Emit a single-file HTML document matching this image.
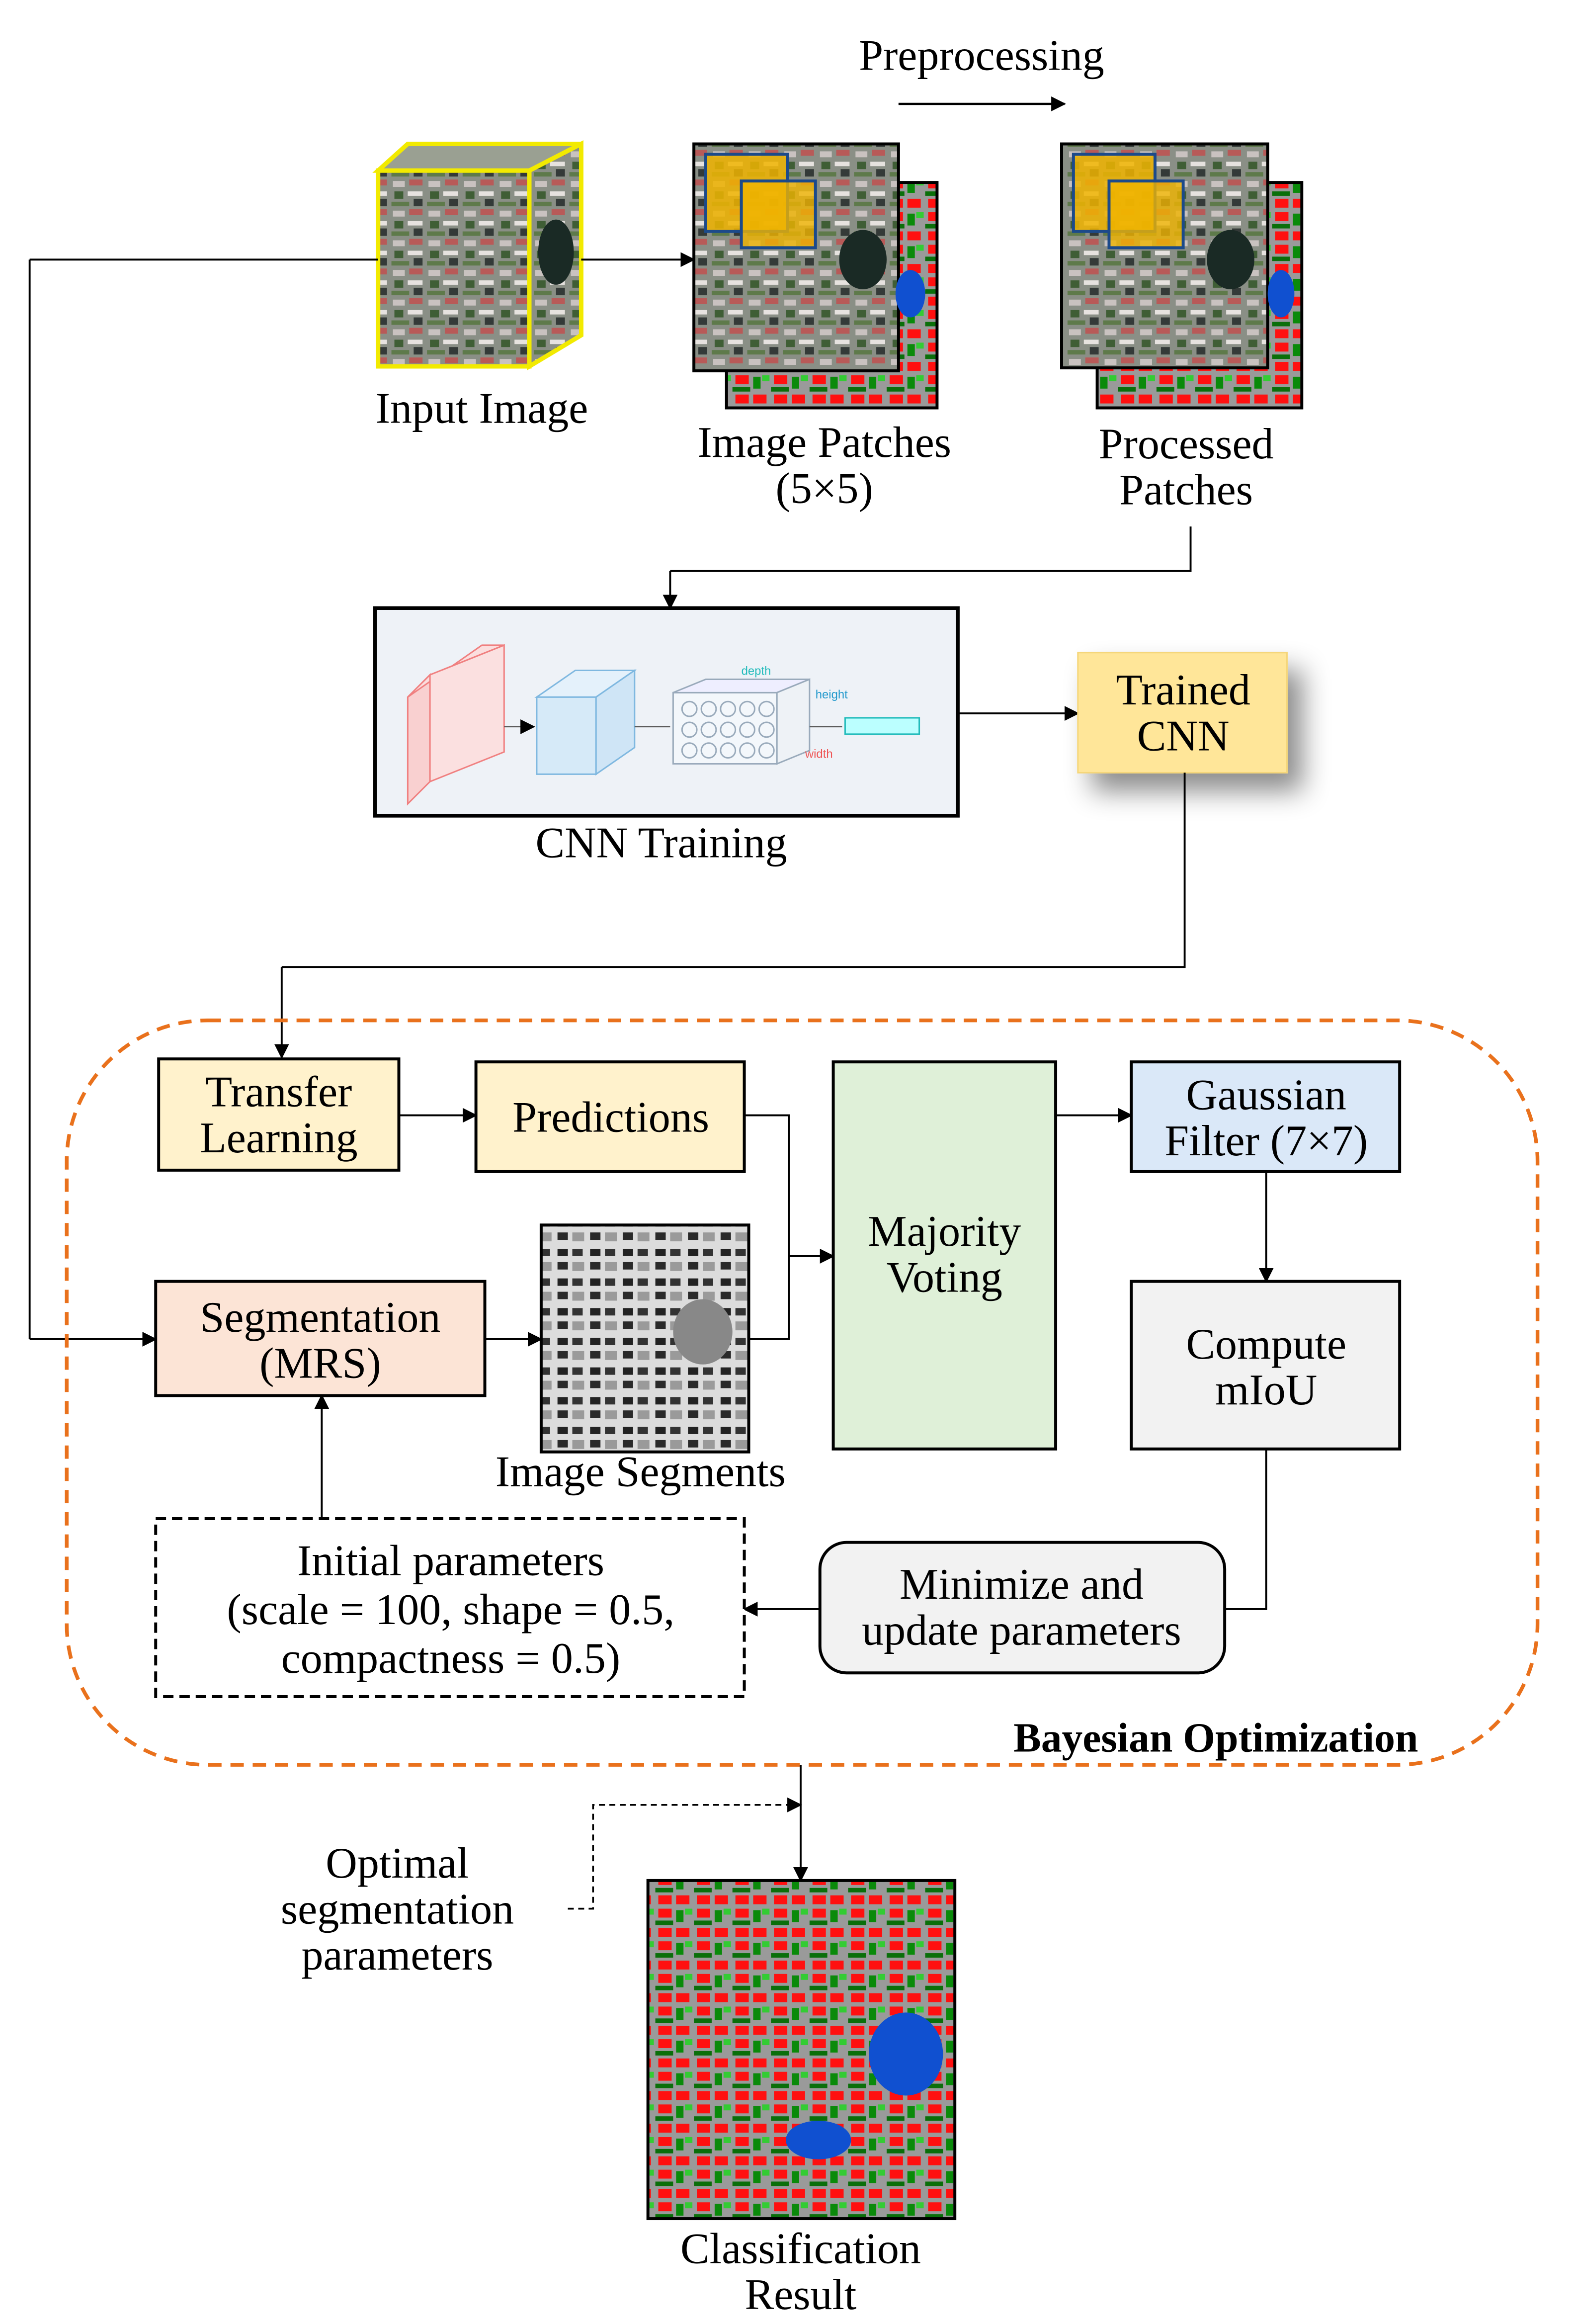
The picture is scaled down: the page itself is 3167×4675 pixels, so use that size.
<!DOCTYPE html>
<html><head><meta charset="utf-8"><style>html,body{margin:0;padding:0;background:#fff}svg{display:block}</style></head>
<body>
<svg width="3167" height="4675" viewBox="0 0 1061.6 1567" xmlns="http://www.w3.org/2000/svg" font-family="Liberation Serif, serif" font-size="29.5" fill="#000">
<defs>
<marker id="ar" markerWidth="10" markerHeight="10" refX="9" refY="5" orient="auto" markerUnits="userSpaceOnUse"><path d="M0,0 L10,5 L0,10 z" fill="#000"/></marker>
<pattern id="sat" width="24" height="20" patternUnits="userSpaceOnUse">
<rect width="24" height="20" fill="#8a8f86"/>
<rect x="1" y="2" width="8" height="4" fill="#c9c2c0"/><rect x="12" y="1" width="9" height="4" fill="#b85a58"/>
<rect x="2" y="9" width="6" height="5" fill="#3f5e35"/><rect x="11" y="9" width="10" height="3" fill="#e6e2df"/>
<rect x="0" y="16" width="12" height="3" fill="#5e7a4a"/><rect x="15" y="14" width="6" height="5" fill="#343a38"/>
</pattern>
<pattern id="map" width="26" height="22" patternUnits="userSpaceOnUse">
<rect width="26" height="22" fill="#9a9a9a"/>
<rect x="2" y="2" width="9" height="6" fill="#ff1010"/><rect x="14" y="2" width="9" height="6" fill="#ff1010"/>
<rect x="2" y="11" width="9" height="6" fill="#ff1010"/><rect x="14" y="12" width="5" height="8" fill="#0a8a0a"/>
<rect x="20" y="11" width="5" height="4" fill="#33cc33"/><rect x="0" y="19" width="12" height="3" fill="#0a6f0a"/>
</pattern>
<pattern id="seg" width="22" height="20" patternUnits="userSpaceOnUse">
<rect width="22" height="20" fill="#dcdcdc"/>
<rect x="2" y="2" width="7" height="5" fill="#222"/><rect x="12" y="2" width="7" height="5" fill="#333"/>
<rect x="2" y="11" width="7" height="5" fill="#2a2a2a"/><rect x="12" y="11" width="8" height="6" fill="#9a9a9a"/>
</pattern>
<filter id="sh" x="-40%" y="-40%" width="200%" height="200%"><feDropShadow dx="10" dy="12" stdDeviation="9" flood-color="#000" flood-opacity="0.45"/></filter>
</defs>

<text x="662" y="47" text-anchor="middle">Preprocessing</text>
<line x1="606" y1="70" x2="718" y2="70" stroke="#000" stroke-width="1.5" marker-end="url(#ar)"/>

<polygon points="255,115 275,97 392,97 357,115" fill="#9aa092" stroke="#f2ea00" stroke-width="3"/>
<polygon points="357,115 392,97 392,226 357,247" fill="url(#sat)" stroke="#f2ea00" stroke-width="3"/>
<rect x="255" y="115" width="102" height="132" fill="url(#sat)" stroke="#f2ea00" stroke-width="3"/>
<ellipse cx="375" cy="170" rx="12" ry="22" fill="#1a2a25"/>
<text x="325" y="285" text-anchor="middle">Input Image</text>

<line x1="255" y1="175" x2="20" y2="175" stroke="#000" stroke-width="1.3"/>
<line x1="20" y1="175" x2="20" y2="903" stroke="#000" stroke-width="1.3"/>
<line x1="20" y1="903" x2="105" y2="903" stroke="#000" stroke-width="1.3" marker-end="url(#ar)"/>
<line x1="392" y1="175" x2="468" y2="175" stroke="#000" stroke-width="1.3" marker-end="url(#ar)"/>

<rect x="490" y="123" width="142" height="152" fill="url(#map)" stroke="#000" stroke-width="2"/>
<rect x="468" y="97" width="138" height="153" fill="url(#sat)" stroke="#000" stroke-width="2"/>
<rect x="476" y="104" width="55" height="52" fill="#f0b400" fill-opacity="0.85" stroke="#1c4a8a" stroke-width="2"/>
<rect x="500" y="122" width="50" height="45" fill="#f0b400" fill-opacity="0.8" stroke="#1c4a8a" stroke-width="2"/>
<ellipse cx="582" cy="175" rx="16" ry="20" fill="#1a2a25"/>
<ellipse cx="614" cy="198" rx="10" ry="16" fill="#1050d0"/>
<text x="556" y="308" text-anchor="middle">Image  Patches</text>
<text x="556" y="339" text-anchor="middle">(5×5)</text>

<rect x="740" y="123" width="138" height="152" fill="url(#map)" stroke="#000" stroke-width="2"/>
<rect x="716" y="97" width="139" height="151" fill="url(#sat)" stroke="#000" stroke-width="2"/>
<rect x="724" y="104" width="55" height="52" fill="#f0b400" fill-opacity="0.85" stroke="#1c4a8a" stroke-width="2"/>
<rect x="748" y="122" width="50" height="45" fill="#f0b400" fill-opacity="0.8" stroke="#1c4a8a" stroke-width="2"/>
<ellipse cx="830" cy="175" rx="16" ry="20" fill="#1a2a25"/>
<ellipse cx="864" cy="198" rx="9" ry="16" fill="#1050d0"/>
<text x="800" y="309" text-anchor="middle">Processed</text>
<text x="800" y="340" text-anchor="middle">Patches</text>

<polyline points="803,355 803,385 452,385" fill="none" stroke="#000" stroke-width="1.3"/>
<line x1="452" y1="385" x2="452" y2="410" stroke="#000" stroke-width="1.3" marker-end="url(#ar)"/>

<rect x="253" y="410" width="393" height="140" fill="#eef2f7" stroke="#000" stroke-width="2.5"/>
<polygon points="275,470 290,455 290,527 275,542" fill="#f9d0d0" stroke="#f08080"/>
<polygon points="275,470 325,435 340,435 290,455" fill="#fbdede" stroke="#f08080"/>
<polygon points="290,455 340,435 340,507 290,527" fill="#fbe0e0" stroke="#f08080"/>
<rect x="362" y="470" width="40" height="52" fill="#d6eaf8" stroke="#7fb8e0"/>
<polygon points="362,470 388,452 428,452 402,470" fill="#e4f1fb" stroke="#7fb8e0"/>
<polygon points="402,470 428,452 428,504 402,522" fill="#cfe5f6" stroke="#7fb8e0"/>
<rect x="454" y="467" width="70" height="48" fill="#f3f7fb" stroke="#9ab"/>
<polygon points="454,467 476,458 546,458 524,467" fill="#eef" stroke="#9ab"/>
<polygon points="524,467 546,458 546,506 524,515" fill="#eef2f6" stroke="#9ab"/>
<g fill="none" stroke="#9ab"><circle cx="465" cy="478" r="5"/><circle cx="478" cy="478" r="5"/><circle cx="491" cy="478" r="5"/><circle cx="504" cy="478" r="5"/><circle cx="517" cy="478" r="5"/><circle cx="465" cy="492" r="5"/><circle cx="478" cy="492" r="5"/><circle cx="491" cy="492" r="5"/><circle cx="504" cy="492" r="5"/><circle cx="517" cy="492" r="5"/><circle cx="465" cy="506" r="5"/><circle cx="478" cy="506" r="5"/><circle cx="491" cy="506" r="5"/><circle cx="504" cy="506" r="5"/><circle cx="517" cy="506" r="5"/></g>
<text x="500" y="455" font-family="Liberation Sans, sans-serif" font-size="8" fill="#2bb">depth</text>
<text x="550" y="471" font-family="Liberation Sans, sans-serif" font-size="8" fill="#29c">height</text>
<text x="543" y="511" font-family="Liberation Sans, sans-serif" font-size="8" fill="#e55">width</text>
<rect x="570" y="484" width="50" height="11" fill="#bff" stroke="#2bb"/>
<line x1="340" y1="490" x2="360" y2="490" stroke="#555" marker-end="url(#ar)" stroke-width="0.8"/>
<line x1="428" y1="490" x2="452" y2="490" stroke="#555" stroke-width="0.8"/>
<line x1="546" y1="490" x2="568" y2="490" stroke="#555" stroke-width="0.8"/>
<text x="446" y="578" text-anchor="middle">CNN Training</text>

<line x1="646" y1="481" x2="727" y2="481" stroke="#000" stroke-width="1.3" marker-end="url(#ar)"/>
<rect x="727" y="440" width="141" height="81" fill="#ffe699" stroke="#f5d67a" filter="url(#sh)"/>
<text x="798" y="475" text-anchor="middle">Trained</text>
<text x="798" y="506" text-anchor="middle">CNN</text>

<polyline points="799,521 799,652 190,652" fill="none" stroke="#000" stroke-width="1.3"/>
<line x1="190" y1="652" x2="190" y2="713" stroke="#000" stroke-width="1.3" marker-end="url(#ar)"/>

<rect x="45" y="688" width="992" height="502" rx="95" fill="none" stroke="#e9711c" stroke-width="2.5" stroke-dasharray="9,6"/>
<text x="820" y="1181" text-anchor="middle" font-weight="bold" font-size="28">Bayesian Optimization</text>

<rect x="107" y="714" width="162" height="75" fill="#fff2cc" stroke="#000" stroke-width="2"/>
<text x="188" y="746" text-anchor="middle">Transfer</text>
<text x="188" y="777" text-anchor="middle">Learning</text>
<line x1="269" y1="752" x2="321" y2="752" stroke="#000" stroke-width="1.3" marker-end="url(#ar)"/>
<rect x="321" y="716" width="181" height="74" fill="#fff2cc" stroke="#000" stroke-width="2"/>
<text x="412" y="763" text-anchor="middle">Predictions</text>

<polyline points="502,752 532,752 532,903 505,903" fill="none" stroke="#000" stroke-width="1.3"/>
<line x1="532" y1="847" x2="562" y2="847" stroke="#000" stroke-width="1.3" marker-end="url(#ar)"/>

<rect x="562" y="716" width="150" height="261" fill="#dff0d8" stroke="#000" stroke-width="2"/>
<text x="637" y="840" text-anchor="middle">Majority</text>
<text x="637" y="871" text-anchor="middle">Voting</text>

<line x1="712" y1="752" x2="763" y2="752" stroke="#000" stroke-width="1.3" marker-end="url(#ar)"/>
<rect x="763" y="716" width="181" height="74" fill="#dae8f8" stroke="#000" stroke-width="2"/>
<text x="854" y="748" text-anchor="middle">Gaussian</text>
<text x="854" y="779" text-anchor="middle">Filter (7×7)</text>
<line x1="854" y1="790" x2="854" y2="864" stroke="#000" stroke-width="1.3" marker-end="url(#ar)"/>
<rect x="763" y="864" width="181" height="113" fill="#f2f2f2" stroke="#000" stroke-width="2"/>
<text x="854" y="916" text-anchor="middle">Compute</text>
<text x="854" y="947" text-anchor="middle">mIoU</text>

<polyline points="854,977 854,1085 826,1085" fill="none" stroke="#000" stroke-width="1.3"/>
<rect x="553" y="1040" width="273" height="88" rx="18" fill="#f2f2f2" stroke="#000" stroke-width="2"/>
<text x="689" y="1078" text-anchor="middle">Minimize and</text>
<text x="689" y="1109" text-anchor="middle">update parameters</text>
<line x1="553" y1="1085" x2="502" y2="1085" stroke="#000" stroke-width="1.3" marker-end="url(#ar)"/>

<rect x="105" y="1024" width="397" height="120" fill="#fff" stroke="#000" stroke-width="2" stroke-dasharray="7,4"/>
<text x="304" y="1062" text-anchor="middle">Initial parameters</text>
<text x="304" y="1095" text-anchor="middle">(scale = 100, shape = 0.5,</text>
<text x="304" y="1128" text-anchor="middle">compactness = 0.5)</text>
<line x1="217" y1="1024" x2="217" y2="941" stroke="#000" stroke-width="1.3" marker-end="url(#ar)"/>

<rect x="105" y="864" width="222" height="77" fill="#fce4d6" stroke="#000" stroke-width="2"/>
<text x="216" y="898" text-anchor="middle">Segmentation</text>
<text x="216" y="929" text-anchor="middle">(MRS)</text>
<line x1="327" y1="903" x2="365" y2="903" stroke="#000" stroke-width="1.3" marker-end="url(#ar)"/>

<rect x="365" y="826" width="140" height="153" fill="url(#seg)" stroke="#000" stroke-width="2"/>
<ellipse cx="474" cy="898" rx="20" ry="22" fill="#888"/>
<text x="432" y="1002" text-anchor="middle">Image  Segments</text>

<line x1="540" y1="1190" x2="540" y2="1268" stroke="#000" stroke-width="1.3" marker-end="url(#ar)"/>
<polyline points="383,1287 400,1287 400,1217 540,1217" fill="none" stroke="#000" stroke-width="1.2" stroke-dasharray="4,3" marker-end="url(#ar)"/>
<text x="268" y="1266" text-anchor="middle">Optimal</text>
<text x="268" y="1297" text-anchor="middle">segmentation</text>
<text x="268" y="1328" text-anchor="middle">parameters</text>

<rect x="437" y="1268" width="207" height="228" fill="url(#map)" stroke="#000" stroke-width="2"/>
<ellipse cx="611" cy="1385" rx="25" ry="28" fill="#1050d0"/>
<ellipse cx="552" cy="1443" rx="22" ry="13" fill="#1050d0"/>
<text x="540" y="1526" text-anchor="middle">Classification</text>
<text x="540" y="1557" text-anchor="middle">Result</text>
</svg>
</body></html>
